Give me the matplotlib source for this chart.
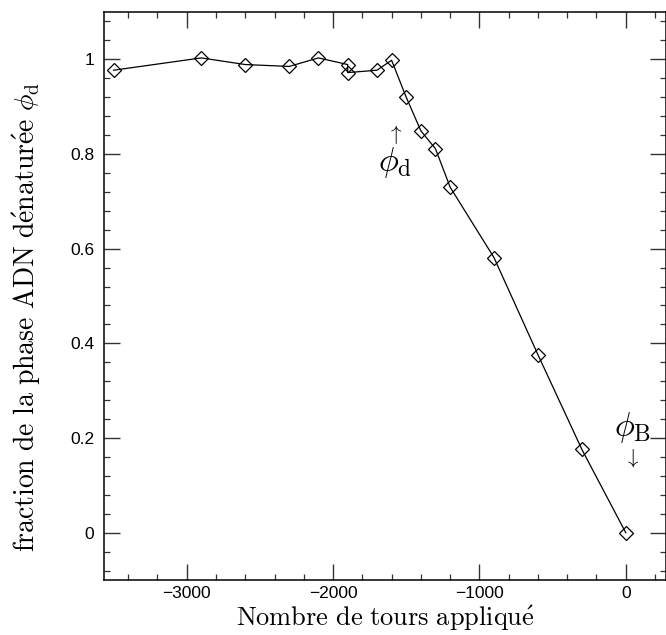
import matplotlib
matplotlib.use("Agg")
import matplotlib.pyplot as plt
from matplotlib.ticker import MultipleLocator

# Applied number of turns and fraction of denatured DNA phase
turns = [-3500, -2900, -2600, -2300, -2100, -1900, -1900, -1700, -1600,
         -1500, -1400, -1300, -1200, -900, -600, -300, 0]
fraction = [0.977, 1.003, 0.989, 0.985, 1.003, 0.989, 0.972, 0.977, 0.998,
            0.920, 0.849, 0.811, 0.730, 0.581, 0.376, 0.176, 0.0]

x_label = r"$\mathrm{Nombre\ de\ tours\ appliqu\acute{e}}$"
y_label = (r"$\mathrm{fraction\ de\ la\ phase\ ADN\ d\acute{e}natur\acute{e}e}"
           r"\ \phi_{\rm d}$")

plt.rcParams["mathtext.fontset"] = "cm"
plt.rcParams["axes.unicode_minus"] = True

fig = plt.figure(figsize=(6.66, 6.35), dpi=100)
ax = fig.add_axes([104 / 666, 1 - 580 / 635, 562 / 666, 568 / 635])

ax.plot(turns, fraction, color="black", lw=0.9, marker="D", ms=7.5,
        mfc="none", mec="black", mew=0.9)

ax.set_xlim(-3565, 275)
ax.set_ylim(-0.1, 1.1)

ax.xaxis.set_major_locator(MultipleLocator(1000))
ax.xaxis.set_minor_locator(MultipleLocator(200))
ax.yaxis.set_minor_locator(MultipleLocator(0.04))
ax.set_yticks([0, 0.2, 0.4, 0.6, 0.8, 1.0])
ax.set_yticklabels(["0", "0.2", "0.4", "0.6", "0.8", "1"])

ax.tick_params(which="both", direction="in", top=True, right=True,
               color="#333333")
ax.tick_params(which="major", length=11.5, width=1.0, labelsize=12.5)
ax.tick_params(axis="y", which="major", pad=7)
ax.tick_params(axis="x", which="major", pad=4)
ax.tick_params(which="minor", length=4.5, width=0.9)
for lab in ax.get_xticklabels() + ax.get_yticklabels():
    lab.set_fontfamily("Liberation Sans")
for sp in ax.spines.values():
    sp.set_linewidth(1.1)

ax.set_xlabel(x_label, fontsize=19)
ax.set_ylabel(y_label, fontsize=20)
ax.xaxis.set_label_coords(0.5, -0.041)
ax.yaxis.set_label_coords(-0.108, 0.463)

# Annotations marking the two characteristic fractions
ax.text(-1575, 0.842, r"$\uparrow$", ha="center", va="center", fontsize=15)
ax.text(-1575, 0.782, r"$\phi_{\rm d}$", ha="center", va="center", fontsize=24)
ax.text(45, 0.222, r"$\phi_{\rm B}$", ha="center", va="center", fontsize=24)
ax.text(45, 0.158, r"$\downarrow$", ha="center", va="center", fontsize=15)

fig.savefig("out.png", dpi=100)
